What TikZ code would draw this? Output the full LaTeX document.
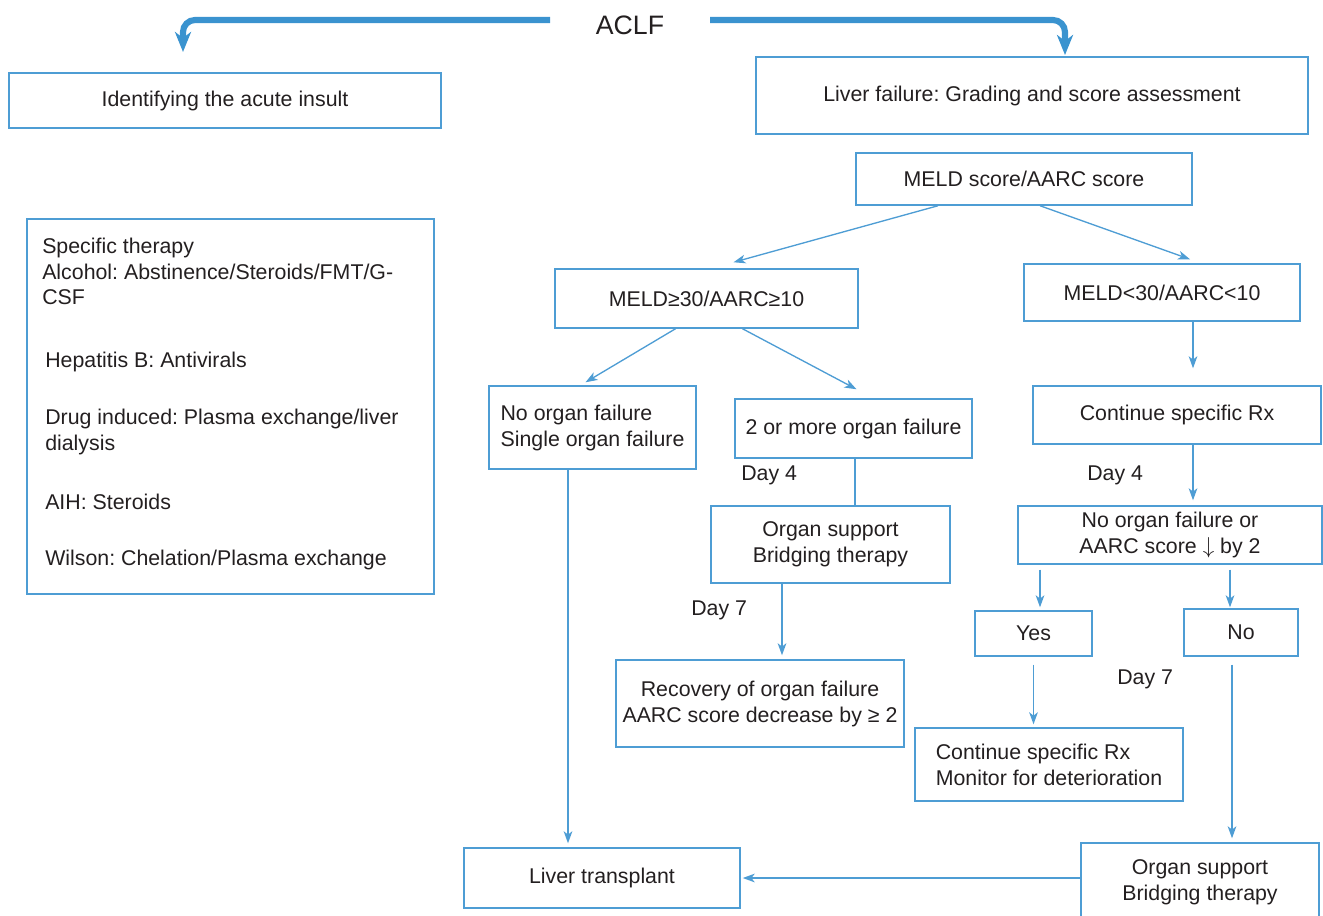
\documentclass[tikz,border=0pt]{standalone}
\usepackage{fontspec}
\setmainfont{Liberation Sans}
\frenchspacing
\usetikzlibrary{arrows.meta,calc}
\definecolor{boxblue}{RGB}{78,157,212}
\definecolor{arrowblue}{RGB}{58,147,207}
\definecolor{txt}{RGB}{35,31,32}
\tikzset{
  box/.style={draw=boxblue, line width=1.1pt, inner sep=0pt, align=center, text=txt},
  lbox/.style={box, align=left},
  bx/.style n args={4}{minimum width={(#3-#1)*0.75pt}, minimum height={(#4-#2)*0.75pt}, at={({(#1+#3)/2},{(#2+#4)/2+1})}},
  conn/.style={draw=boxblue, line width=1.0pt, -{Stealth[length=9pt,width=6.5pt,inset=2.5pt]}},
  plain/.style={draw=boxblue, line width=1.0pt},
  bigarrow/.style={draw=arrowblue, line width=4.6pt, rounded corners=9pt, -{Stealth[length=15pt,width=12pt,inset=4.5pt]}},
  lbl/.style={text=txt, inner sep=0pt, anchor=west},
  sline/.style={text=txt, inner sep=0pt, anchor=base west},
  every node/.style={font=\fontsize{16}{19.5}\selectfont}
}
\begin{document}
\begin{tikzpicture}[x=0.75pt,y=-0.75pt]
\useasboundingbox (0,0) rectangle (1323,915);
% title and thick arrows
\node[text=txt, inner sep=0pt, font=\fontsize{20}{24}\selectfont] (aclf) at (630,25) {ACLF};
\coordinate (aL) at (550,20);
\coordinate (aR) at (710,20);
\coordinate (tipL) at (183,52);
\coordinate (tipR) at (1065,55);
\draw[bigarrow] (aL) -| (tipL);
\draw[bigarrow] (aR) -| (tipR);
% boxes
\node[box, bx={9}{72}{441}{127}] (ident) {Identifying the acute insult};
\node[box, bx={756}{56}{1308}{133}] (liver) {Liver failure: Grading and score assessment};
\node[box, bx={856}{152}{1192}{204}] (meld) {MELD score/AARC score};
\node[box, bx={27}{218}{434}{593}] (spec) {};
\node[box, bx={555}{268}{858}{327}] (m30) {MELD≥30/AARC≥10};
\node[box, bx={1024}{263}{1300}{320}] (mlt) {MELD<30/AARC<10};
\node[lbox, bx={489}{385}{696}{468}] (nof) {No organ failure\\Single organ failure};
\node[box, bx={735}{398}{972}{457}] (two) {2 or more organ failure};
\node[box, bx={1033}{385}{1321}{443}] (cont) {Continue specific Rx};
\node[box, bx={711}{505}{950}{582}] (os1) {Organ support\\Bridging therapy};
\node[box, bx={1018}{505}{1322}{563}] (nog) {No organ failure or\\AARC score $\downarrow$ by 2};
\node[box, bx={975}{610}{1092}{655}] (yes) {Yes};
\node[box, bx={1184}{608}{1298}{655}] (no) {No};
\node[box, bx={616}{659}{904}{746}] (rec) {Recovery of organ failure\\AARC score decrease by ≥ 2};
\node[lbox, bx={915}{727}{1183}{800}] (mon) {Continue specific Rx\\Monitor for deterioration};
\node[box, bx={464}{847}{740}{907}] (lt) {Liver transplant};
\node[box, bx={1081}{842}{1319}{920}] (os2) {Organ support\\Bridging therapy};
% specific therapy text
\node[sline] (s1) at (42,253) {Specific therapy};
\node[sline] (s2) at (42,279) {Alcohol: Abstinence/Steroids/FMT/G-};
\node[sline] (s3) at (42,304) {CSF};
\node[sline] (s4) at (45,367) {Hepatitis B: Antivirals};
\node[sline] (s5) at (45,424) {Drug induced: Plasma exchange/liver};
\node[sline] (s6) at (45,450) {dialysis};
\node[sline] (s7) at (45,509) {AIH: Steroids};
\node[sline] (s8) at (45,565) {Wilson: Chelation/Plasma exchange};
% day labels
\node[lbl] (d4a) at (741,475) {Day 4};
\node[lbl] (d7a) at (691,610) {Day 7};
\node[lbl] (d4b) at (1087,475) {Day 4};
\node[lbl] (d7b) at (1117,679) {Day 7};
% connectors
\draw[conn] ($(meld.south)+(-86,0)$) -- ($(m30.north)+(27,-6)$);
\draw[conn] ($(meld.south)+(16,0)$) -- ($(mlt.north)+(28,-4)$);
\draw[conn] ($(m30.south)+(-31,0)$) -- ($(nof.north)+(-7,-3)$);
\draw[conn] ($(m30.south)+(36,0)$) -- ($(two.north)+(3,-9)$);
\draw[conn] ($(mlt.south)+(31,0)$) -- ($(cont.north)+(16,-17)$);
\draw[conn] ($(nof.south)+(-24.5,0)$) -- ($(lt.north)+(-34,-4)$);
\draw[plain] ($(two.south)+(1.5,0)$) -- ($(os1.north)+(24.5,0)$);
\draw[conn] ($(os1.south)+(-48.5,0)$) -- ($(rec.north)+(22,-4)$);
\draw[conn] ($(cont.south)+(16,0)$) -- ($(nog.north)+(23,-5)$);
\draw[conn] ($(nog.south)+(-130,5)$) -- ($(yes.north)+(6.5,-3)$);
\draw[conn] ($(nog.south)+(60,5)$) -- ($(no.north)+(-11,-1)$);
\draw[conn] ($(yes.south)+(0,8)$) -- ($(mon.north)+(-15.5,-3)$);
\draw[conn] ($(no.south)+(-9,8)$) -- ($(os2.north)+(32,-4)$);
\draw[conn] (os2.west |- lt.east) -- ($(lt.east)+(2,0)$);
\end{tikzpicture}
\end{document}
